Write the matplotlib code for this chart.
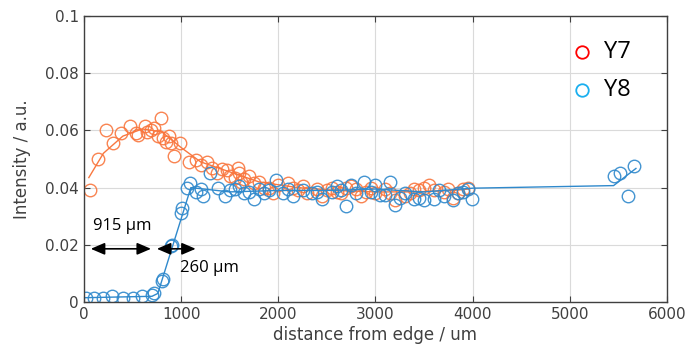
import matplotlib.pyplot as plt

# Y7 measured points
y7_x = [60, 140, 230, 300, 380, 470, 540, 560, 630, 650, 690, 720, 760, 790, 810, 840,
        870, 900, 930, 990, 1080, 1150, 1200, 1270, 1320, 1370, 1420, 1470, 1500, 1550,
        1580, 1600, 1620, 1650, 1700, 1750, 1800, 1850, 1900, 1950, 2000, 2100, 2150,
        2200, 2250, 2300, 2400, 2450, 2500, 2550, 2600, 2650, 2700, 2750, 2800, 2850,
        2900, 2950, 3000, 3100, 3150, 3200, 3300, 3350, 3400, 3450, 3500, 3550, 3600,
        3700, 3750, 3800, 3850, 3900, 3950]
y7_y = [0.039, 0.050, 0.060, 0.0555, 0.059, 0.0615, 0.059, 0.0585, 0.0615, 0.0595, 0.060,
        0.061, 0.058, 0.0645, 0.0575, 0.056, 0.058, 0.0555, 0.051, 0.0555, 0.049, 0.0495,
        0.048, 0.049, 0.047, 0.045, 0.0465, 0.046, 0.044, 0.0435, 0.047, 0.045, 0.042,
        0.043, 0.044, 0.0415, 0.042, 0.040, 0.040, 0.038, 0.041, 0.0415, 0.040, 0.039,
        0.0405, 0.038, 0.0395, 0.037, 0.039, 0.040, 0.0385, 0.038, 0.040, 0.0405, 0.0395,
        0.037, 0.0385, 0.040, 0.038, 0.0395, 0.038, 0.0355, 0.037, 0.038, 0.0395, 0.039,
        0.040, 0.041, 0.039, 0.0385, 0.0395, 0.0365, 0.038, 0.0395, 0.040]

# Y7 trend line
y7_fit_x = [50, 200, 400, 600, 800, 1000, 1200, 1500, 1800, 2200, 2600, 3000, 3400, 3800, 3960]
y7_fit_y = [0.0435, 0.052, 0.058, 0.0605, 0.0595, 0.054, 0.049, 0.0455, 0.042, 0.040,
            0.039, 0.0385, 0.0385, 0.039, 0.0395]

# Y8 measured points
y8_x = [20, 100, 200, 290, 400, 500, 600, 700, 720, 800, 810, 900, 910, 1000, 1010, 1060,
        1090, 1150, 1200, 1230, 1300, 1380, 1450, 1500, 1550, 1600, 1650, 1700, 1750, 1800,
        1850, 1900, 1980, 2050, 2100, 2150, 2250, 2350, 2400, 2450, 2550, 2600, 2650, 2700,
        2750, 2800, 2880, 2950, 3000, 3050, 3100, 3150, 3200, 3250, 3300, 3400, 3450, 3500,
        3600, 3650, 3700, 3800, 3850, 3900, 3950, 3990, 5450, 5520, 5600, 5660]
y8_y = [0.0015, 0.0015, 0.0015, 0.002, 0.0015, 0.0015, 0.002, 0.0025, 0.003, 0.0075, 0.008,
        0.0195, 0.020, 0.031, 0.033, 0.040, 0.0415, 0.0385, 0.0395, 0.037, 0.045, 0.040,
        0.037, 0.039, 0.0395, 0.0405, 0.038, 0.0385, 0.036, 0.0395, 0.038, 0.039, 0.0425,
        0.038, 0.0395, 0.037, 0.039, 0.038, 0.0385, 0.036, 0.0385, 0.0405, 0.039, 0.0335,
        0.041, 0.038, 0.042, 0.0385, 0.041, 0.0375, 0.0375, 0.042, 0.034, 0.0365, 0.038,
        0.036, 0.0365, 0.0355, 0.036, 0.039, 0.037, 0.0355, 0.038, 0.0385, 0.0395, 0.036,
        0.044, 0.045, 0.037, 0.0475]

# Y8 trend line
y8_fit_x = [0, 700, 760, 1100, 1500, 2000, 2500, 3000, 3500, 4000, 5450, 5680]
y8_fit_y = [0.0015, 0.002, 0.003, 0.040, 0.0385, 0.039, 0.039, 0.0395, 0.0385, 0.0398,
            0.0407, 0.0467]

c7 = '#F9773F'
c8 = '#2F89CC'
gray = '#404040'

fig = plt.figure(figsize=(6.9, 3.61), dpi=100)
ax = fig.add_axes([0.1217, 0.1634, 0.845, 0.7923])

ax.plot(y7_x, y7_y, 'o', mfc='none', mec=c7, ms=9, mew=1.0, alpha=0.9)
ax.plot(y7_fit_x, y7_fit_y, '-', color=c7, lw=1.0)
ax.plot(y8_x, y8_y, 'o', mfc='none', mec=c8, ms=9, mew=1.0, alpha=0.9)
ax.plot(y8_fit_x, y8_fit_y, '-', color=c8, lw=1.0)

ax.set_xlim(0, 6000)
ax.set_ylim(0, 0.1)
ax.set_xticks([0, 1000, 2000, 3000, 4000, 5000, 6000])
ax.set_yticks([0, 0.02, 0.04, 0.06, 0.08, 0.1])
ax.set_yticklabels(['0', '0.02', '0.04', '0.06', '0.08', '0.1'])
ax.grid(True, color='#DADADA', lw=0.8)
ax.set_axisbelow(True)
ax.tick_params(direction='in', top=True, right=True, labelsize=11, colors=gray, length=4)
for s in ax.spines.values():
    s.set_color(gray)
    s.set_linewidth(1.0)
ax.set_xlabel('distance from edge / um', fontsize=12, color=gray, labelpad=3)
ax.set_ylabel('Intensity / a.u.', fontsize=12, color=gray, labelpad=10)

# custom legend
ax.plot([5125], [0.0874], 'o', mfc='none', mec='#FF0000', ms=9, mew=1.3)
ax.plot([5125], [0.0740], 'o', mfc='none', mec='#1AAFEF', ms=9, mew=1.3)
ax.text(5350, 0.0874, 'Y7', fontsize=17, va='center', ha='left', family='Open Sans')
ax.text(5350, 0.0740, 'Y8', fontsize=17, va='center', ha='left', family='Open Sans')

# annotations
arr = dict(arrowstyle='<|-|>,head_length=0.7,head_width=0.3', color='black', lw=1.2,
           mutation_scale=12, shrinkA=0, shrinkB=0)
ax.annotate('', xy=(70, 0.0186), xytext=(690, 0.0186), arrowprops=arr)
ax.annotate('', xy=(750, 0.0186), xytext=(1150, 0.0186), arrowprops=arr)
ax.text(90, 0.0267, '915 µm', fontsize=12, ha='left', va='center', family='Open Sans')
ax.text(990, 0.0120, '260 µm', fontsize=12, ha='left', va='center', family='Open Sans')

plt.savefig('out.png', dpi=100)
